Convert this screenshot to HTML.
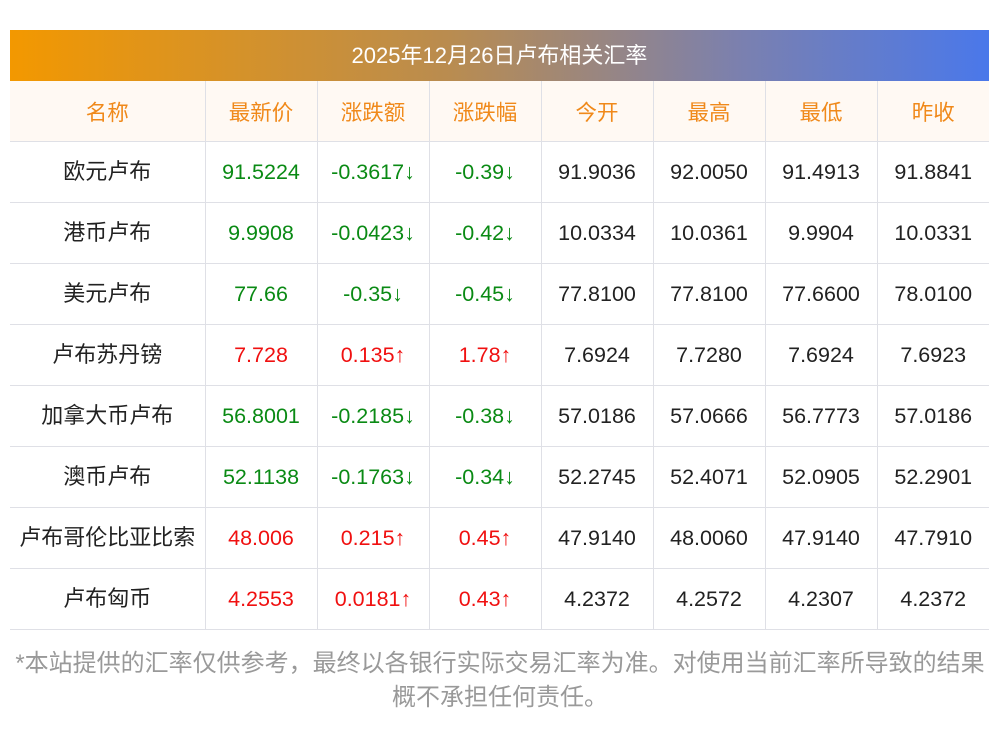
<!DOCTYPE html>
<html><head><meta charset="utf-8"><style>
body{margin:0;width:1000px;height:733px;background:#fff;font-family:"Liberation Sans","Noto Sans CJK SC",sans-serif;position:relative;overflow:hidden}
.bar{position:absolute;left:10px;top:30px;width:979px;height:51px;background:linear-gradient(90deg,#f39800,#b98c50 45%,#7a80b0 75%,#4a78ea);color:#fff;font-size:22px;text-align:center;line-height:51px}
table{position:absolute;left:10px;top:81px;width:979px;border-collapse:collapse;table-layout:fixed}
td{height:60px;border-bottom:1px solid #dfe0e6;border-left:1px solid #dfe0e6;text-align:center;font-size:21.5px;color:#222;padding:0;white-space:nowrap}
td:first-child{border-left:none;font-size:22px}
td:first-child span{position:relative;top:-2px}
tr.h td{background:#fff9f3;color:#f0891a;font-size:21.5px}
tr.h td span{top:0}
.g{color:#0a8a14}.r{color:#f01010}
.note{position:absolute;left:0;width:1000px;top:647px;text-align:center;color:#999;font-size:24px;line-height:34px;white-space:nowrap}
</style></head><body>
<div class="bar">2025年12月26日卢布相关汇率</div>
<table>
<colgroup><col style="width:195px"><col style="width:112px"><col style="width:112px"><col style="width:112px"><col style="width:112px"><col style="width:112px"><col style="width:112px"><col style="width:112px"></colgroup>
<tr class="h"><td><span>名称</span></td><td>最新价</td><td>涨跌额</td><td>涨跌幅</td><td>今开</td><td>最高</td><td>最低</td><td>昨收</td></tr>
<tr><td><span>欧元卢布</span></td><td class="g">91.5224</td><td class="g">-0.3617↓</td><td class="g">-0.39↓</td><td>91.9036</td><td>92.0050</td><td>91.4913</td><td>91.8841</td></tr>
<tr><td><span>港币卢布</span></td><td class="g">9.9908</td><td class="g">-0.0423↓</td><td class="g">-0.42↓</td><td>10.0334</td><td>10.0361</td><td>9.9904</td><td>10.0331</td></tr>
<tr><td><span>美元卢布</span></td><td class="g">77.66</td><td class="g">-0.35↓</td><td class="g">-0.45↓</td><td>77.8100</td><td>77.8100</td><td>77.6600</td><td>78.0100</td></tr>
<tr><td><span>卢布苏丹镑</span></td><td class="r">7.728</td><td class="r">0.135↑</td><td class="r">1.78↑</td><td>7.6924</td><td>7.7280</td><td>7.6924</td><td>7.6923</td></tr>
<tr><td><span>加拿大币卢布</span></td><td class="g">56.8001</td><td class="g">-0.2185↓</td><td class="g">-0.38↓</td><td>57.0186</td><td>57.0666</td><td>56.7773</td><td>57.0186</td></tr>
<tr><td><span>澳币卢布</span></td><td class="g">52.1138</td><td class="g">-0.1763↓</td><td class="g">-0.34↓</td><td>52.2745</td><td>52.4071</td><td>52.0905</td><td>52.2901</td></tr>
<tr><td><span>卢布哥伦比亚比索</span></td><td class="r">48.006</td><td class="r">0.215↑</td><td class="r">0.45↑</td><td>47.9140</td><td>48.0060</td><td>47.9140</td><td>47.7910</td></tr>
<tr><td><span>卢布匈币</span></td><td class="r">4.2553</td><td class="r">0.0181↑</td><td class="r">0.43↑</td><td>4.2372</td><td>4.2572</td><td>4.2307</td><td>4.2372</td></tr>
</table>
<div class="note">*本站提供的汇率仅供参考，最终以各银行实际交易汇率为准。对使用当前汇率所导致的结果<br>概不承担任何责任。</div>
</body></html>
